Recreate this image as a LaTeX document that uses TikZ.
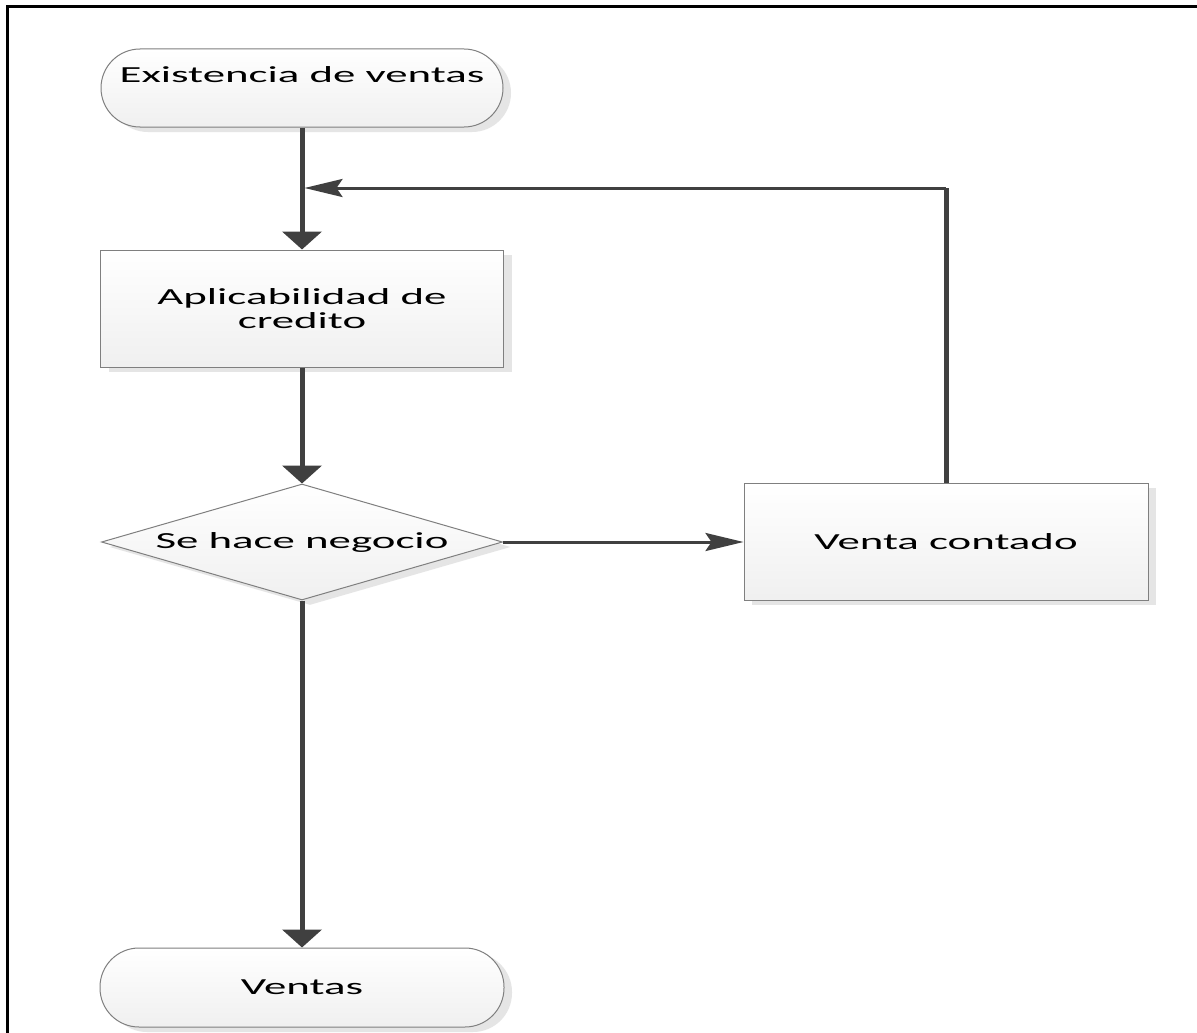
\documentclass[tikz,border=0pt]{standalone}
\usepackage{fontspec}
\newfontfamily\dfont[FakeStretch=1.95]{Carlito}
\usetikzlibrary{arrows.meta,shapes.geometric,shadows}
\definecolor{lin}{HTML}{404040}
\definecolor{edge}{HTML}{7F7F7F}
\begin{document}
\begin{tikzpicture}[x=1pt,y=-1pt,
  shapebase/.style={draw=edge, line width=1pt, top color=white, bottom color=black!6,
    general shadow={shadow xshift=8pt, shadow yshift=-5pt, fill=black!10},
    inner sep=0pt, font=\dfont\fontsize{23}{24}\selectfont, text=black},
  term/.style={shapebase, rectangle, rounded corners=39pt, minimum width=402pt, minimum height=78pt},
  procbox/.style={shapebase, rectangle, minimum width=403pt, minimum height=117pt, align=center},
  decbox/.style={shapebase, diamond, aspect=3.46, minimum width=401pt, minimum height=116pt},
  thickflow/.style={draw=lin, line width=5pt, -{Triangle[length=18pt, width=39pt]}},
  thinflow/.style={draw=lin, line width=3pt, -{Stealth[length=38pt, width=18pt, inset=6pt]}},
  frameline/.style={draw=black, line width=3pt}
]
\useasboundingbox (0,0) rectangle (1197,1033);
\fill[white] (0,0) rectangle (1197,1033);
% frame
\coordinate (fbl) at (7,1034);
\coordinate (ftl) at (7,7);
\coordinate (ftr) at (1198,7);
\draw[frameline] (fbl) -- (ftl) -- (ftr);

% nodes
\node[term, text height=34pt, text depth=44pt] (start) at (302,88) {Existencia de ventas};
\node[procbox] (aplic) at (302,308.5) {Aplicabilidad de\\credito};
\node[decbox] (dec) at (302,542) {Se hace negocio};
\node[procbox, minimum width=404pt] (venta) at (946,541.5) {Venta contado};
\node[term, minimum width=404pt, minimum height=79pt] (fin) at (302,987.5) {Ventas};

% connectors
\coordinate (corner) at (946,188);
\coordinate (join) at (304.5,188);
\draw[thickflow] (start) -- (aplic);
\draw[thickflow] (aplic) -- (dec);
\draw[thickflow] (dec) -- (fin);
\draw[thinflow] (dec.east) -- (dec.east -| venta.west);
\draw[draw=lin, line width=5pt] (venta.north) -- (corner);
\draw[thinflow] (corner) -- (join);
\end{tikzpicture}
\end{document}
